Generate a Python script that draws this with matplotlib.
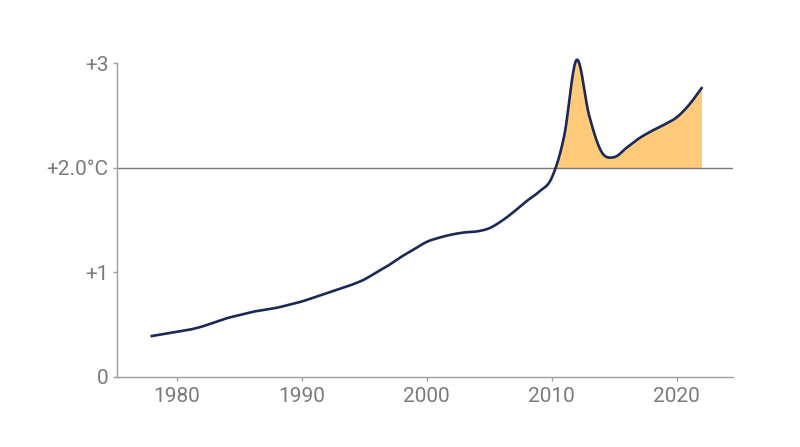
import numpy as np
import matplotlib
matplotlib.use("Agg")
import matplotlib.pyplot as plt

years = list(range(1978, 2023))
warming = [0.39, 0.41, 0.43, 0.45, 0.48, 0.52, 0.56, 0.59, 0.62, 0.64,
           0.66, 0.69, 0.72, 0.76, 0.80, 0.84, 0.88, 0.93, 1.00, 1.07,
           1.15, 1.22, 1.29, 1.33, 1.36, 1.38, 1.39, 1.42, 1.49, 1.58,
           1.68, 1.77, 1.90, 2.30, 3.03, 2.50, 2.15, 2.10, 2.19, 2.28,
           2.35, 2.41, 2.48, 2.60, 2.76]
threshold = 2.0
x_ticks = [1980, 1990, 2000, 2010, 2020]
y_ticks = [0, 1, 2, 3]
y_labels = ["0", "+1", "+2.0°C", "+3"]

line_color = "#1b2a55"
fill_color = "#ffca7a"
grey = "#7a7a7a"


def smooth_curve(x, y, n=20):
    # Catmull-Rom spline through the points, only for drawing a smooth line
    x = np.asarray(x, float)
    y = np.asarray(y, float)
    m = np.zeros_like(y)
    m[1:-1] = (y[2:] - y[:-2]) / 2
    m[0] = y[1] - y[0]
    m[-1] = y[-1] - y[-2]
    xs, ys = [], []
    for i in range(len(x) - 1):
        t = np.linspace(0, 1, n, endpoint=False)
        h00 = 2 * t**3 - 3 * t**2 + 1
        h10 = t**3 - 2 * t**2 + t
        h01 = -2 * t**3 + 3 * t**2
        h11 = t**3 - t**2
        xs.append(x[i] + t * (x[i + 1] - x[i]))
        ys.append(h00 * y[i] + h10 * m[i] + h01 * y[i + 1] + h11 * m[i + 1])
    xs.append([x[-1]])
    ys.append([y[-1]])
    return np.concatenate(xs), np.concatenate(ys)


plt.rcParams["font.family"] = ["Roboto", "DejaVu Sans"]

fig = plt.figure(figsize=(8, 4.47), dpi=100)
ax = fig.add_axes([0.146, 0.157, 0.77, 0.702])

sx, sy = smooth_curve(years, warming)
ax.fill_between(sx, threshold, sy, where=sy >= threshold, interpolate=True,
                color=fill_color, linewidth=0, clip_on=False)
ax.axhline(threshold, color=grey, linewidth=1)
ax.plot(sx, sy, color=line_color, linewidth=1.9, clip_on=False)

ax.set_xlim(1975.2, 2024.5)
ax.set_ylim(0, 3)
ax.set_xticks(x_ticks)
ax.set_yticks(y_ticks)
ax.set_yticklabels(y_labels)

for side in ["top", "right"]:
    ax.spines[side].set_visible(False)
for side in ["left", "bottom"]:
    ax.spines[side].set_color("#9e9e9e")
    ax.spines[side].set_linewidth(1)
ax.tick_params(colors="#9e9e9e", labelcolor=grey, labelsize=15, length=3, width=1)
ax.tick_params(axis="x", pad=4)
ax.tick_params(axis="y", pad=3)

fig.savefig("out.png", dpi=100)
